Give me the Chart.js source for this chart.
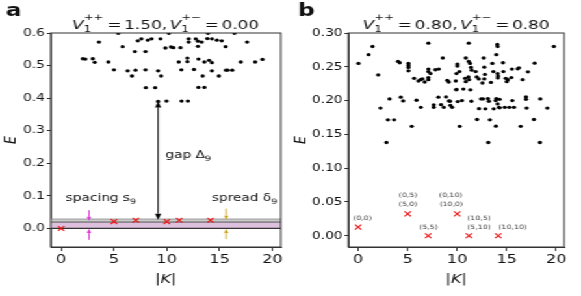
<!DOCTYPE html>
<html>
<head>
<meta charset="utf-8">
<script src="https://cdn.jsdelivr.net/npm/chart.js@4.4.1/dist/chart.umd.min.js"></script>
<style>
  body { margin: 0; background: #fff; }
  /* the original picture is stretched sideways, so the whole figure is drawn narrow and scaled */
  #fig { position: absolute; left: 0; top: 0; width: 447px; height: 296px; transform: scaleX(1.2998); transform-origin: 0 0; }
  #fig canvas { position: absolute; top: 0; }
</style>
</head>
<body>
<div id="fig">
  <canvas id="chartA" width="223" height="296" style="left:0"></canvas>
  <canvas id="chartB" width="224" height="296" style="left:223px"></canvas>
</div>
<script>
// ---------------- data ----------------
const xTicks = [0, 5, 10, 15, 20];
const yTicksA = [0, 0.1, 0.2, 0.3, 0.4, 0.5, 0.6];
const yTicksB = [0, 0.05, 0.1, 0.15, 0.2, 0.25, 0.3];

// panel a: bulk states (|K|, E)
const bulkA = [
  [2.05,0.521],[2.3,0.520],[2.99,0.521],[3.18,0.510],[3.58,0.572],[4.47,0.511],[5.0,0.487],[5.4,0.599],
  [5.82,0.558],[6.29,0.484],[6.7,0.468],[7.04,0.486],[6.98,0.543],[7.26,0.576],[7.6,0.582],[7.99,0.543],
  [7.99,0.487],[8.02,0.432],[8.2,0.578],[8.56,0.582],[9.18,0.484],[9.46,0.468],[8.9,0.432],[9.18,0.39],
  [9.97,0.391],[9.4,0.582],[9.87,0.554],[10.2,0.599],[10.4,0.557],[10.63,0.555],[11.3,0.555],[11.13,0.511],
  [11.38,0.487],[11.4,0.391],[12.0,0.391],[11.95,0.523],[11.95,0.512],[12.07,0.572],[12.07,0.582],[12.58,0.488],
  [12.74,0.582],[12.95,0.559],[12.95,0.575],[13.0,0.52],[12.99,0.433],[13.56,0.433],[13.3,0.572],[13.56,0.511],
  [13.9,0.599],[13.84,0.583],[14.27,0.582],[14.0,0.516],[14.27,0.509],[14.27,0.484],[13.4,0.468],[14.75,0.578],
  [15.2,0.576],[15.57,0.558],[15.6,0.486],[15.75,0.486],[16.2,0.486],[14.93,0.468],[16.4,0.599],[17.0,0.511],
  [17.6,0.572],[18.37,0.511],[19.06,0.519]
];
// panel a: low-lying states (red crosses)
const lowA = [[0,0.0],[5,0.021],[7.07,0.025],[10,0.021],[11.18,0.025],[14.14,0.025]];
// panel a: shaded bands (E ranges)
const spacingBand = [0, 0.0196];
const spreadBand = [0.0196, 0.0288];
// panel a: arrows [|K|, E from, E to]
const gapArrow = [9.18, 0.027, 0.39];
const spacingArrows = [[2.64, 0.056, 0.0235], [2.64, -0.035, -0.002]];
const spreadArrows = [[15.63, 0.061, 0.027], [15.63, -0.033, -0.002]];
// panel a: annotation anchors [|K|, E]
const gapLabelAt = [9.88, 0.227];
const spacingLabelAt = [0.44, 0.095];
const spreadLabelAt = [14.27, 0.095];

// panel b: bulk states
const bulkB = [
  [0.04,0.255],[1.05,0.268],[1.45,0.280],[2.02,0.238],[2.26,0.189],[2.86,0.138],[3.17,0.2025],[3.0,0.1716],
  [3.63,0.1716],[4.03,0.258],[4.2,0.256],[4.3,0.205],[4.54,0.1995],[5.41,0.162],[5.08,0.255],[5.08,0.252],
  [5.08,0.249],[5.08,0.244],[5.65,0.233],[5.89,0.2005],[6.09,0.229],[6.29,0.231],[6.49,0.232],[6.32,0.190],
  [6.72,0.2275],[7.09,0.285],[7.09,0.2466],[7.09,0.243],[7.09,0.234],[7.09,0.231],[7.3,0.240],[7.63,0.1937],
  [7.63,0.190],[7.8,0.2456],[8.14,0.2466],[8.1,0.205],[8.54,0.263],[8.37,0.194],[8.64,0.190],[8.87,0.2054],
  [9.0,0.230],[9.14,0.2275],[9.17,0.1995],[9.31,0.193],[9.48,0.190],[9.92,0.2166],[9.85,0.229],[9.92,0.240],
  [10.05,0.1985],[10.25,0.162],[10.02,0.254],[10.02,0.251],[10.22,0.243],[10.48,0.2],[10.62,0.217],[10.79,0.233],
  [10.86,0.228],[11.16,0.285],[10.86,0.263],[11.16,0.258],[11.29,0.255],[11.13,0.235],[11.19,0.231],[11.39,0.249],
  [11.46,0.245],[11.33,0.216],[11.43,0.199],[11.87,0.243],[11.97,0.235],[12.17,0.232],[12.0,0.172],[12.2,0.188],
  [12.4,0.2025],[12.6,0.2025],[12.54,0.226],[12.67,0.263],[12.74,0.2495],[12.8,0.2387],[12.74,0.232],[12.84,0.1878],
  [13.1,0.203],[13.14,0.138],[13.3,0.1716],[13.2,0.199],[13.55,0.255],[13.65,0.243],[13.4,0.2269],[13.95,0.268],
  [14.05,0.283],[14.08,0.280],[13.95,0.203],[13.88,0.2],[14.08,0.195],[14.21,0.190],[13.68,0.1878],[13.9,0.1622],
  [14.08,0.24],[14.12,0.2365],[14.1,0.2335],[14.62,0.256],[14.28,0.2019],[14.28,0.1893],[14.66,0.243],[14.79,0.190],
  [15.26,0.190],[14.9,0.233],[15.0,0.228],[15.1,0.231],[15.56,0.2],[15.46,0.234],[15.52,0.2466],[15.73,0.190],
  [16.1,0.247],[16.23,0.2485],[16.4,0.162],[16.6,0.231],[16.94,0.2054],[16.94,0.2019],[17.0,0.189],[17.14,0.2426],
  [17.74,0.172],[17.81,0.2554],[18.39,0.2025],[18.35,0.138],[19.09,0.189],[19.76,0.280],[9.9,0.216],[9.28,0.199]
];
const lowB = [[0,0.0128],[5,0.0324],[7.07,0],[10,0.0324],[11.18,0],[14.14,0]];
// panel b: momentum labels [text, |K|, E]
const lowLabelsB = [
  ['(0,0)', 0.44, 0.0254],
  ['(0,5)', 5.04, 0.060], ['(5,0)', 5.04, 0.0466],
  ['(5,5)', 7.1, 0.0128],
  ['(0,10)', 9.35, 0.060], ['(10,0)', 9.4, 0.0466],
  ['(10,5)', 12.2, 0.0254], ['(5,10)', 12.2, 0.0118],
  ['(10,10)', 15.6, 0.0118]
];

// ---------------- drawing helpers ----------------
const FONT = '"DejaVu Sans"';

function txt(t, size, style) { return { t: t, font: (style || '') + ' ' + size + 'px ' + FONT }; }
function scripts(sub, sup, size) { return { sub: sub, sup: sup, font: size + 'px ' + FONT }; }
function gap(w) { return { gap: w }; }

// draws a row of text pieces (with sub/superscripts) starting at x, baseline y
function drawRich(ctx, parts, x, y, align) {
  const widths = parts.map(p => {
    if (p.gap !== undefined) return p.gap;
    ctx.font = p.font;
    if (p.sub !== undefined) return Math.max(ctx.measureText(p.sub).width, ctx.measureText(p.sup || '').width);
    return ctx.measureText(p.t).width;
  });
  const total = widths.reduce((a, b) => a + b, 0);
  let cx = align === 'center' ? x - total / 2 : x;
  ctx.textAlign = 'left';
  ctx.textBaseline = 'alphabetic';
  parts.forEach((p, i) => {
    if (p.gap === undefined) {
      ctx.font = p.font;
      if (p.sub !== undefined) {
        ctx.fillText(p.sub, cx, y + 2.8);
        if (p.sup) ctx.fillText(p.sup, cx, y - 9.2);
      } else {
        ctx.fillText(p.t, cx, y);
      }
    }
    cx += widths[i];
  });
}

function arrowHead(ctx, x, tip, dir, hl, hw) {
  ctx.beginPath();
  ctx.moveTo(x, tip);
  ctx.lineTo(x - hw, tip - dir * hl);
  ctx.lineTo(x + hw, tip - dir * hl);
  ctx.closePath();
  ctx.fill();
}

// vertical arrow between two pixel heights, head at yTo (and at yFrom when both)
function vArrow(ctx, x, yFrom, yTo, color, hl, hw, both) {
  const dir = Math.sign(yTo - yFrom);
  ctx.strokeStyle = color;
  ctx.fillStyle = color;
  ctx.lineWidth = 0.9;
  ctx.beginPath();
  ctx.moveTo(x, yFrom + (both ? dir * hl : 0));
  ctx.lineTo(x, yTo - dir * hl);
  ctx.stroke();
  arrowHead(ctx, x, yTo, dir, hl, hw);
  if (both) arrowHead(ctx, x, yFrom, -dir, hl, hw);
}

function titleParts(v1, v2) {
  return [txt('V', 13, 'italic'), scripts('1', '++', 9), gap(3), txt('=', 13), gap(2), txt(v1 + ',', 13), gap(2),
          txt('V', 13, 'italic'), scripts('1', '+\u2212', 9), gap(3), txt('=', 13), gap(2), txt(v2, 13)];
}

// frame, titles, axis titles, panel letters
function framePlugin(letter, letterX, titleText) {
  return {
    id: 'frame' + letter,
    afterDraw(chart) {
      const { ctx, chartArea: a } = chart;
      ctx.save();
      ctx.strokeStyle = '#333';
      ctx.lineWidth = 1;
      ctx.strokeRect(a.left, a.top, a.right - a.left, a.bottom - a.top);
      ctx.fillStyle = '#111';
      drawRich(ctx, titleText, (a.left + a.right) / 2, 28.7, 'center');
      ctx.font = 'bold 18px ' + FONT;
      ctx.fillText(letter, letterX, 15.5);
      // x axis title |K|
      drawRich(ctx, [txt('|', 12.5), txt('K', 12.5, 'italic'), txt('|', 12.5)], (a.left + a.right) / 2, 282.5, 'center');
      // y axis title E
      ctx.translate(7.5, (a.top + a.bottom) / 2);
      ctx.rotate(-Math.PI / 2);
      drawRich(ctx, [txt('E', 12.5, 'italic')], 0, 4, 'center');
      ctx.restore();
    }
  };
}

function axes(yTicks, digits, yWidth, yMin, yMax) {
  const tickFont = size => ({ family: 'DejaVu Sans', size: size });
  return {
    x: {
      type: 'linear', min: -0.99, max: 20.79,
      afterBuildTicks: s => { s.ticks = xTicks.map(v => ({ value: v })); },
      afterFit: s => { s.height = 49; },
      grid: { drawOnChartArea: false, drawTicks: true, tickLength: 4, tickColor: '#333' },
      border: { display: true, color: '#333', width: 1 },
      ticks: { font: tickFont(12.5), color: '#111', padding: 1, maxRotation: 0, autoSkip: false }
    },
    y: {
      type: 'linear', min: yMin, max: yMax,
      afterBuildTicks: s => { s.ticks = yTicks.map(v => ({ value: v })); },
      afterFit: s => { s.width = yWidth; },
      grid: { drawOnChartArea: false, drawTicks: true, tickLength: 3, tickColor: '#333' },
      border: { display: true, color: '#333', width: 1 },
      ticks: { font: tickFont(10.5), color: '#111', padding: 1.5, autoSkip: false,
               callback: v => Number(v).toFixed(digits) }
    }
  };
}

function toPoints(arr) { return arr.map(p => ({ x: p[0], y: p[1] })); }

function datasets(bulk, low) {
  return [
    { data: toPoints(bulk), pointRadius: 1.65, pointBackgroundColor: '#000', pointBorderWidth: 0 },
    { data: toPoints(low), pointStyle: 'crossRot', pointRadius: 3.4, pointBorderColor: '#ee1111',
      pointBorderWidth: 1.1, pointBackgroundColor: 'rgba(0,0,0,0)' }
  ];
}

const common = {
  responsive: false,
  animation: false,
  events: [],
  plugins: { legend: { display: false }, tooltip: { enabled: false } }
};

// ---------------- panel a ----------------
const bandsA = {
  id: 'bandsA',
  beforeDatasetsDraw(chart) {
    const { ctx, chartArea: a, scales: { y } } = chart;
    ctx.save();
    const band = (r, fill) => {
      const y0 = y.getPixelForValue(r[0]), y1 = y.getPixelForValue(r[1]);
      ctx.fillStyle = fill;
      ctx.fillRect(a.left, y1, a.right - a.left, y0 - y1);
    };
    const hline = (v, color, w) => {
      const py = y.getPixelForValue(v);
      ctx.strokeStyle = color; ctx.lineWidth = w;
      ctx.beginPath(); ctx.moveTo(a.left, py); ctx.lineTo(a.right, py); ctx.stroke();
    };
    band(spacingBand, '#ddc0dd');
    band(spreadBand, '#cccccc');
    hline(spreadBand[1], '#9a9a9a', 1);
    hline(spreadBand[0], '#555', 1);
    hline(spacingBand[0], '#333', 1.2);
    ctx.restore();
  },
  afterDatasetsDraw(chart) {
    const { ctx, scales: { x, y } } = chart;
    ctx.save();
    vArrow(ctx, x.getPixelForValue(gapArrow[0]), y.getPixelForValue(gapArrow[1]), y.getPixelForValue(gapArrow[2]), '#000', 6, 2.4, true);
    spacingArrows.forEach(r => vArrow(ctx, x.getPixelForValue(r[0]), y.getPixelForValue(r[1]), y.getPixelForValue(r[2]), '#dd33dd', 4, 1.7, false));
    spreadArrows.forEach(r => vArrow(ctx, x.getPixelForValue(r[0]), y.getPixelForValue(r[1]), y.getPixelForValue(r[2]), '#c9a21c', 4, 1.7, false));
    ctx.fillStyle = '#111';
    const at = p => [x.getPixelForValue(p[0]), y.getPixelForValue(p[1]) + 3.8];
    let q = at(gapLabelAt);
    drawRich(ctx, [txt('gap \u0394', 10.5), { sub: '9', font: '7.5px ' + FONT }], q[0], q[1], 'left');
    q = at(spacingLabelAt);
    drawRich(ctx, [txt('spacing s', 10.5), { sub: '9', font: '7.5px ' + FONT }], q[0], q[1], 'left');
    q = at(spreadLabelAt);
    drawRich(ctx, [txt('spread \u03b4', 10.5), { sub: '9', font: '7.5px ' + FONT }], q[0], q[1], 'left');
    ctx.restore();
  }
};

new Chart(document.getElementById('chartA'), {
  type: 'scatter',
  data: { datasets: datasets(bulkA, lowA) },
  options: Object.assign({}, common, {
    layout: { padding: { top: 33, right: 7, left: 0, bottom: 0 } },
    scales: axes(yTicksA, 1, 39, -0.057, 0.6)
  }),
  plugins: [bandsA, framePlugin('a', 4.6, titleParts('1.50', '0.00'))]
});

// ---------------- panel b ----------------
const labelsB = {
  id: 'labelsB',
  afterDatasetsDraw(chart) {
    const { ctx, scales: { x, y } } = chart;
    ctx.save();
    ctx.font = '6px ' + FONT;
    ctx.fillStyle = '#333';
    ctx.textAlign = 'center';
    ctx.textBaseline = 'middle';
    lowLabelsB.forEach(l => ctx.fillText(l[0], x.getPixelForValue(l[1]), y.getPixelForValue(l[2])));
    ctx.restore();
  }
};

new Chart(document.getElementById('chartB'), {
  type: 'scatter',
  data: { datasets: datasets(bulkB, lowB) },
  options: Object.assign({}, common, {
    layout: { padding: { top: 33, right: 13, left: 0, bottom: 0 } },
    scales: axes(yTicksB, 2, 45, -0.0166, 0.30)
  }),
  plugins: [labelsB, framePlugin('b', 6.2, titleParts('0.80', '0.80'))]
});
</script>
</body>
</html>
